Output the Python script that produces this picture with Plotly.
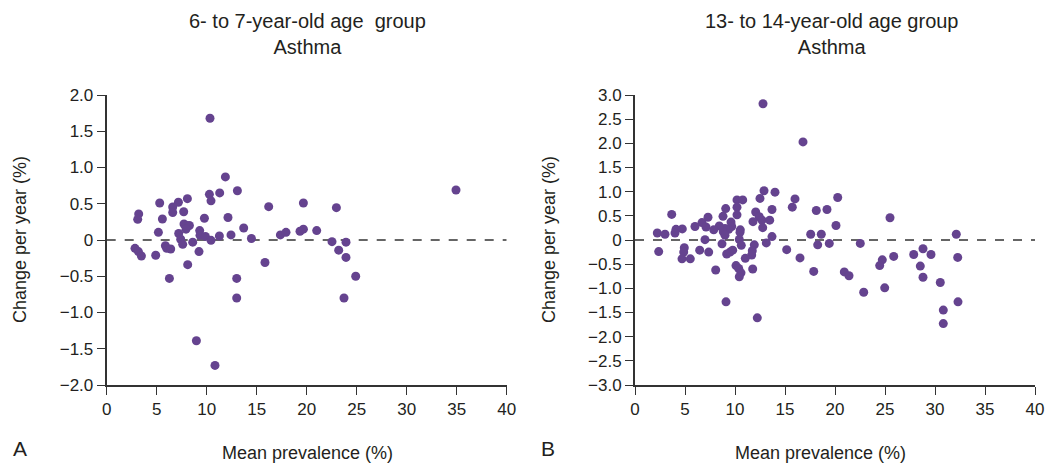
import plotly.graph_objects as go

# Panel A: 6- to 7-year-old age group
prev_a = [10.33, 11.87, 10.27, 10.43, 11.3, 13.07, 8.07, 7.17, 6.6, 6.6, 5.3, 3.2, 3.1, 5.57, 7.7,
          9.77, 12.13, 16.2, 19.67, 21.0, 7.73, 8.0, 8.27, 7.93, 7.2, 7.4, 7.6, 5.17, 9.3, 9.33,
          9.87, 10.43, 11.27, 12.43, 13.7, 14.47, 8.6, 9.23, 8.1, 6.27, 5.87, 6.0, 6.4, 2.83, 3.17,
          3.47, 4.9, 15.83, 13.0, 13.0, 8.97, 10.83, 17.37, 17.93, 19.33, 19.67, 22.97, 22.53,
          23.93, 23.2, 23.93, 24.9, 23.73, 34.93]
chg_a = [1.68, 0.87, 0.63, 0.54, 0.65, 0.68, 0.57, 0.52, 0.455, 0.38, 0.51, 0.36, 0.285, 0.29, 0.39,
         0.30, 0.31, 0.46, 0.51, 0.13, 0.22, 0.20, 0.20, 0.15, 0.09, 0.01, -0.06, 0.106, 0.13, 0.064,
         0.05, -0.005, 0.055, 0.07, 0.165, 0.02, -0.03, -0.16, -0.34, -0.53, -0.08, -0.115, -0.124,
         -0.115, -0.16, -0.22, -0.21, -0.31, -0.53, -0.80, -1.39, -1.73, 0.07, 0.106, 0.12, 0.15,
         0.446, -0.023, -0.03, -0.14, -0.24, -0.50, -0.80, 0.69]

# Panel B: 13- to 14-year-old age group
prev_b = [12.8, 16.8, 12.9, 14.0, 12.5, 10.2, 10.77, 10.2, 10.2, 9.07, 8.8, 13.7, 12.07, 12.43, 12.7,
          13.47, 11.8, 12.77, 15.73, 16.0, 18.13, 19.2, 20.27, 20.1, 17.57, 18.63, 18.27, 19.43,
          22.53, 15.17, 16.5, 17.87, 20.93, 21.4, 22.87, 13.7, 13.13, 11.93, 11.73, 11.67, 11.03,
          11.77, 10.1, 10.37, 10.6, 10.43, 9.1, 12.23, 8.07, 10.53, 10.5, 10.43, 10.63, 9.6, 9.67,
          9.37, 9.0, 8.83, 9.0, 8.43, 7.87, 8.7, 9.17, 9.5, 9.77, 7.3, 6.7, 7.1, 6.0, 7.0, 6.47,
          7.37, 4.73, 4.1, 4.0, 3.67, 4.93, 4.87, 4.7, 5.53, 2.23, 3.0, 2.37, 25.5, 32.13, 24.73,
          24.47, 25.87, 24.97, 27.87, 28.8, 29.6, 28.53, 28.8, 30.53, 32.27, 32.3, 30.83, 30.83]
chg_b = [2.82, 2.03, 1.02, 0.99, 0.86, 0.83, 0.83, 0.68, 0.52, 0.65, 0.49, 0.63, 0.58, 0.48, 0.41,
         0.41, 0.38, 0.255, 0.68, 0.85, 0.61, 0.63, 0.88, 0.30, 0.12, 0.12, -0.10, -0.07, -0.07,
         -0.20, -0.37, -0.65, -0.66, -0.74, -1.08, 0.07, -0.06, -0.10, -0.22, -0.31, -0.38, -0.60,
         -0.53, -0.59, -0.68, -0.76, -1.28, -1.61, -0.62, 0.21, 0.16, 0.01, -0.11, 0.37, 0.28, 0.22,
         0.24, 0.17, 0.10, 0.29, 0.21, -0.08, -0.29, -0.25, -0.21, 0.47, 0.36, 0.27, 0.28, 0.007,
         -0.21, -0.25, 0.23, 0.22, 0.145, 0.53, -0.16, -0.25, -0.39, -0.39, 0.145, 0.12, -0.24,
         0.46, 0.12, -0.41, -0.53, -0.34, -0.99, -0.30, -0.18, -0.30, -0.54, -0.77, -0.88, -0.36,
         -1.28, -1.45, -1.73]

x_ticks = [0, 5, 10, 15, 20, 25, 30, 35, 40]
ya_ticks = [-2.0, -1.5, -1.0, -0.5, 0, 0.5, 1.0, 1.5, 2.0]
ya_labels = ["\u22122.0", "\u22121.5", "\u22121.0", "\u22120.5", "0", "0.5", "1.0", "1.5", "2.0"]
yb_ticks = [-3.0, -2.5, -2.0, -1.5, -1.0, -0.5, 0, 0.5, 1.0, 1.5, 2.0, 2.5, 3.0]
yb_labels = ["\u22123.0", "\u22122.5", "\u22122.0", "\u22121.5", "\u22121.0", "\u22120.5", "0",
             "0.5", "1.0", "1.5", "2.0", "2.5", "3.0"]

titles = ["6- to 7-year-old age  group<br>Asthma", "13- to 14-year-old age group<br>Asthma"]
x_title = "Mean prevalence (%)"
y_title = "Change per year (%)"
panel_letters = ["A", "B"]

FONT = "Liberation Sans, Arial, sans-serif"
TXT = "#231f20"
AX = "#333333"
PURPLE = "#65438f"
W, H = 1046, 463

fig = go.Figure()
fig.add_trace(go.Scatter(x=prev_a, y=chg_a, mode="markers", xaxis="x", yaxis="y",
                         marker=dict(size=9, color=PURPLE), showlegend=False))
fig.add_trace(go.Scatter(x=prev_b, y=chg_b, mode="markers", xaxis="x2", yaxis="y2",
                         marker=dict(size=9, color=PURPLE), showlegend=False))

ydom = [1 - 385 / H, 1 - 95 / H]
xa_dom = [106.7 / W, 506.7 / W]
xb_dom = [635 / W, 1035 / W]

axis_common = dict(showgrid=False, zeroline=False, showline=True, linecolor=AX, linewidth=2,
                   ticks="outside", ticklen=8, tickwidth=1.2, tickcolor=AX,
                   tickfont=dict(family=FONT, size=17, color=TXT), automargin=False)

fig.update_layout(
    width=W, height=H, margin=dict(l=0, r=0, t=0, b=0),
    plot_bgcolor="white", paper_bgcolor="white",
    xaxis=dict(domain=xa_dom, range=[0, 40], tickvals=x_ticks, anchor="y", **axis_common),
    yaxis=dict(domain=ydom, range=[-2, 2], tickvals=ya_ticks, ticktext=ya_labels, anchor="x",
               **axis_common),
    xaxis2=dict(domain=xb_dom, range=[0, 40], tickvals=x_ticks, anchor="y2", **axis_common),
    yaxis2=dict(domain=ydom, range=[-3, 3], tickvals=yb_ticks, ticktext=yb_labels, anchor="x2",
                **axis_common),
)

for xr, yr in (("x", "y"), ("x2", "y2")):
    fig.add_shape(type="line", xref=xr, yref=yr, x0=0, x1=40, y0=0, y1=0,
                  line=dict(color=AX, width=1.3, dash="dash"), layer="below")

anns = []
for cx, title in zip((307, 832), titles):
    anns.append(dict(text=title, x=cx / W, y=1 - 34 / H, xref="paper", yref="paper",
                     xanchor="center", yanchor="middle", showarrow=False,
                     font=dict(family=FONT, size=20, color=TXT)))
for cx in (307, 820):
    anns.append(dict(text=x_title, x=cx / W, y=1 - 453 / H, xref="paper", yref="paper",
                     xanchor="center", yanchor="middle", showarrow=False,
                     font=dict(family=FONT, size=18, color=TXT)))
for cx in (20, 549):
    anns.append(dict(text=y_title, x=cx / W, y=1 - 240 / H, xref="paper", yref="paper",
                     xanchor="center", yanchor="middle", showarrow=False, textangle=-90,
                     font=dict(family=FONT, size=18, color=TXT)))
for cx, letter in zip((20, 548), panel_letters):
    anns.append(dict(text=letter, x=cx / W, y=1 - 448 / H, xref="paper", yref="paper",
                     xanchor="center", yanchor="middle", showarrow=False,
                     font=dict(family=FONT, size=21, color=TXT)))
fig.update_layout(annotations=anns)

fig.write_html("out.html")
